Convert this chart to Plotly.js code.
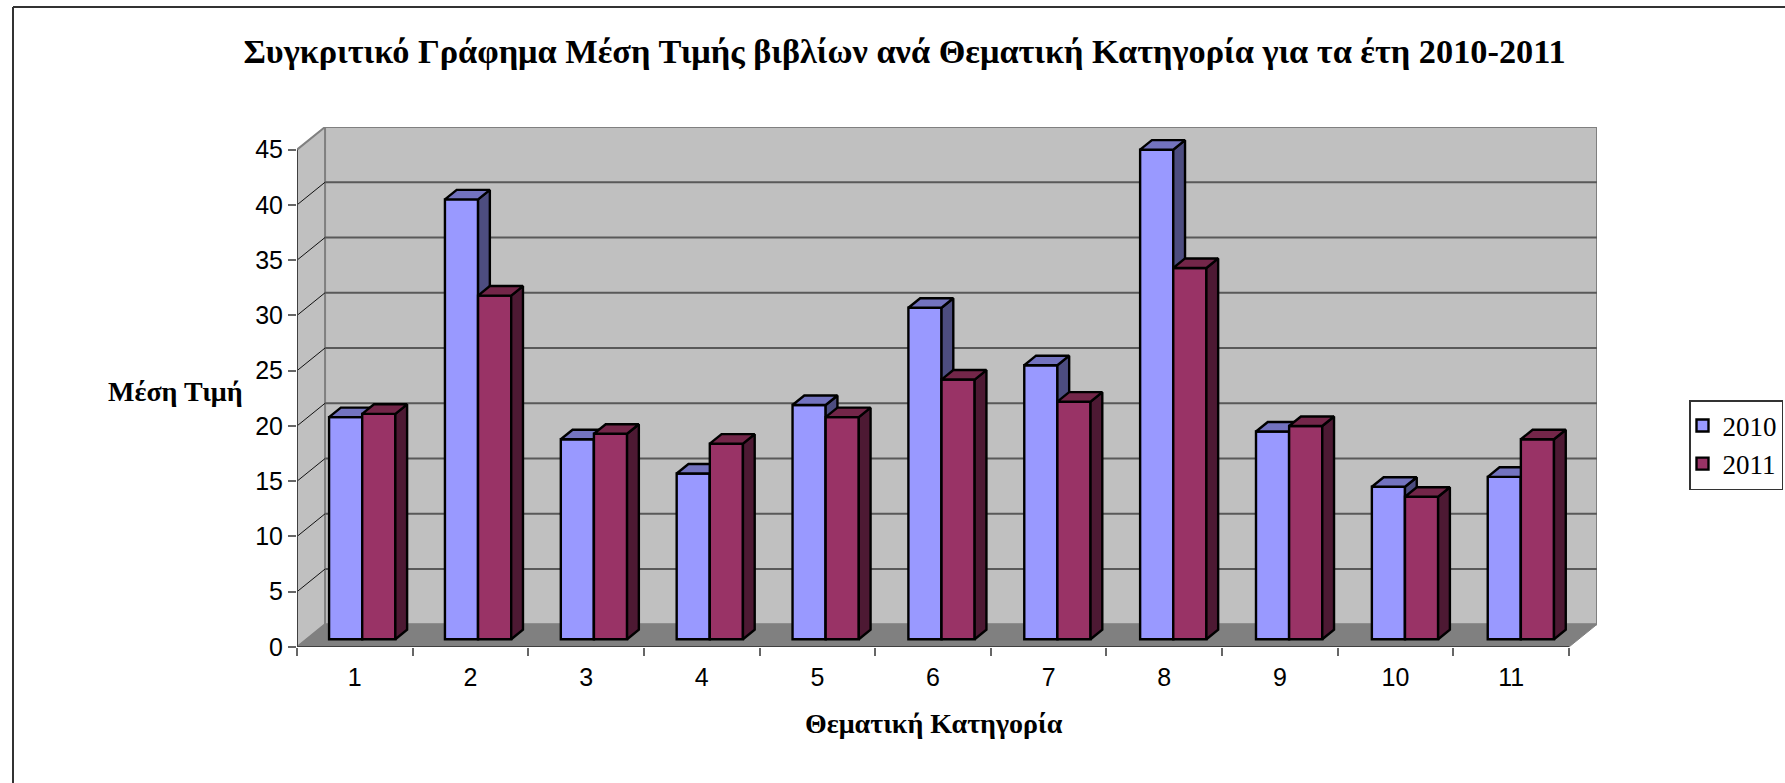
<!DOCTYPE html>
<html><head><meta charset="utf-8">
<script src="https://cdn.plot.ly/plotly-3.0.1.min.js"></script>
<style>html,body{margin:0;padding:0;background:#fff;overflow:hidden}</style>
</head><body><div id="chart" style="width:1785px;height:783px"></div>
<script>
const categories = ['1','2','3','4','5','6','7','8','9','10','11'];
const values2010 = [20.1,39.8,18.1,15.0,21.2,30.0,24.8,44.3,18.8,13.8,14.7];
const values2011 = [20.4,31.1,18.6,17.7,20.1,23.5,21.5,33.6,19.3,12.9,18.1];
const yTicks = [0,5,10,15,20,25,30,35,40,45];
const seriesNames = ['2010','2011'];
const titleText = 'Συγκριτικό Γράφημα Μέση Τιμής βιβλίων ανά Θεματική Κατηγορία για τα έτη 2010-2011';
const yTitleText = 'Μέση Τιμή';
const xTitleText = 'Θεματική Κατηγορία';

// Pseudo-3D projection, expressed in axis units
const DX = 0.2424, DY = 2.05, YMAX = 45, N = categories.length;
const D0 = 0.34, D1 = 0.76, MARGIN = 0.195, W = 0.2865, STEP = 1.002;
const P = (c, v, d) => [c + d * DX, v + d * DY];

function poly(points, into) {
  points.forEach(p => { into.x.push(p[0]); into.y.push(p[1]); });
  into.x.push(points[0][0]); into.y.push(points[0][1]);
  into.x.push(null); into.y.push(null);
}
function area(points, fill, lineColor, lineWidth, xa, ya) {
  const t = {x:[], y:[]};
  poly(points, t);
  return {x:t.x, y:t.y, type:'scatter', mode:'lines', fill:'toself', fillcolor:fill,
    line:{color:lineColor, width:lineWidth}, hoverinfo:'skip', showlegend:false, cliponaxis:false,
    xaxis:xa, yaxis:ya};
}
function lines(segs, color, width) {
  const x = [], y = [];
  segs.forEach(s => { s.forEach(p => { x.push(p[0]); y.push(p[1]); }); x.push(null); y.push(null); });
  return {x, y, type:'scatter', mode:'lines', line:{color, width}, hoverinfo:'skip',
    showlegend:false, cliponaxis:false, xaxis:'x', yaxis:'y'};
}
function series(name, vals, idx, front, side, top, xa, ya) {
  const cx = [], base = [];
  const sideT = {x:[], y:[]}, topT = {x:[], y:[]};
  vals.forEach((v, i) => {
    const l = i * STEP + MARGIN + idx * W, r = l + W;
    cx.push(l + W / 2 + D0 * DX);
    base.push(D0 * DY);
    poly([P(r,0,D0), P(r,0,D1), P(r,v,D1), P(r,v,D0)], sideT);
    poly([P(l,v,D0), P(r,v,D0), P(r,v,D1), P(l,v,D1)], topT);
  });
  const face = (t, c) => ({x:t.x, y:t.y, type:'scatter', mode:'lines', fill:'toself', fillcolor:c,
    line:{color:'#000', width:2.4}, hoverinfo:'skip', showlegend:false, cliponaxis:false, xaxis:xa, yaxis:ya});
  return [
    {x:cx, y:vals, base, width:W, type:'bar', name, legendgroup:name, marker:{color:front, line:{color:'#000', width:2.4}},
      xaxis:xa, yaxis:ya, cliponaxis:false},
    face(sideT, side), face(topT, top)
  ];
}

const wallGray = '#c0c0c0', edgeGray = '#808080';
const traces = [
  area([P(0,0,1), P(N,0,1), P(N,YMAX,1), P(0,YMAX,1)], wallGray, edgeGray, 2, 'x', 'y'),
  area([P(0,0,0), P(0,0,1), P(0,YMAX,1), P(0,YMAX,0)], wallGray, edgeGray, 2, 'x', 'y'),
  area([P(0,0,0), P(N,0,0), P(N,0,1), P(0,0,1)], edgeGray, edgeGray, 1, 'x', 'y'),
  lines(yTicks.filter(v => v > 0 && v < YMAX).map(v => [P(0,v,1), P(N,v,1)]), '#595959', 2),
  lines(yTicks.filter(v => v > 0 && v < YMAX).map(v => [P(0,v,0), P(0,v,1)]), '#111', 1),
  lines([[P(0,YMAX,0), P(0,0,0), P(N,0,0)]], '#404040', 2),
  ...series(seriesNames[0], values2010, 0, '#9999ff', '#4d4d80', '#7373bf', 'x2', 'y2'),
  ...series(seriesNames[1], values2011, 1, '#993366', '#4d1933', '#732649', 'x3', 'y3')
];

const xr = [0, N + DX], yr = [0, YMAX + DY];
const hiddenX = {overlaying:'x', range:xr, visible:false, fixedrange:true};
const hiddenY = {overlaying:'y', range:yr, visible:false, fixedrange:true};
const serif = '"Liberation Serif", serif', sans = '"Liberation Sans", Arial, sans-serif';

const layout = {
  width:1785, height:783, autosize:false,
  paper_bgcolor:'#fff', plot_bgcolor:'rgba(0,0,0,0)',
  margin:{l:297, r:188, t:126.7, b:136.3, pad:0},
  barmode:'overlay',
  title:{text:titleText, font:{family:serif, size:34.3, color:'#000', weight:'bold'},
    x:904.5/1785, xanchor:'center', y:1-51/783, yanchor:'middle'},
  xaxis:{range:xr, tickmode:'array', tickvals:categories.map((c,i)=>i+0.5), ticktext:categories,
    ticks:'', showgrid:false, zeroline:false, showline:false, fixedrange:true,
    tickfont:{family:sans, size:25, color:'#000'}, ticklabelstandoff:13,
    minor:{tickmode:'array', tickvals:categories.map((c,i)=>i).concat([N]), ticks:'outside', ticklen:8, tickcolor:'#666', tickwidth:2, showgrid:false}},
  yaxis:{range:yr, tickmode:'array', tickvals:yTicks, ticks:'outside', ticklen:8, tickcolor:'#666', tickwidth:2,
    showgrid:false, zeroline:false, showline:false, fixedrange:true,
    tickfont:{family:sans, size:25, color:'#000'}},
  xaxis2:hiddenX, yaxis2:hiddenY, xaxis3:hiddenX, yaxis3:hiddenY,
  legend:{x:1689/1785, xref:'container', y:1-400/783, yref:'container', xanchor:'left', yanchor:'top',
    bgcolor:'#fff', bordercolor:'#333', borderwidth:1.5, tracegroupgap:6, traceorder:'normal', indentation:-8,
    font:{family:serif, size:27, color:'#000'}, itemclick:false, itemdoubleclick:false},
  shapes:[
    {type:'line', xref:'paper', yref:'paper', x0:(13-297)/1300, x1:(1785-297)/1300, y0:1+(126.7-6.7)/520, y1:1+(126.7-6.7)/520, line:{color:'#333', width:2}},
    {type:'line', xref:'paper', yref:'paper', x0:(13-297)/1300, x1:(13-297)/1300, y0:1+(126.7-6.7)/520, y1:1-(783-126.7)/520, line:{color:'#333', width:2}}
  ],
  annotations:[
    {text:yTitleText, xref:'paper', yref:'paper', x:(175-297)/1300, y:1-(391-126.7)/520, xanchor:'center', yanchor:'middle', showarrow:false,
     font:{family:serif, size:28, color:'#000', weight:'bold'}},
    {text:xTitleText, xref:'paper', yref:'paper', x:(934-297)/1300, y:1-(723-126.7)/520, xanchor:'center', yanchor:'middle', showarrow:false,
     font:{family:serif, size:28, color:'#000', weight:'bold'}}
  ]
};
Plotly.newPlot('chart', traces, layout, {displayModeBar:false, staticPlot:true});
</script></body></html>
